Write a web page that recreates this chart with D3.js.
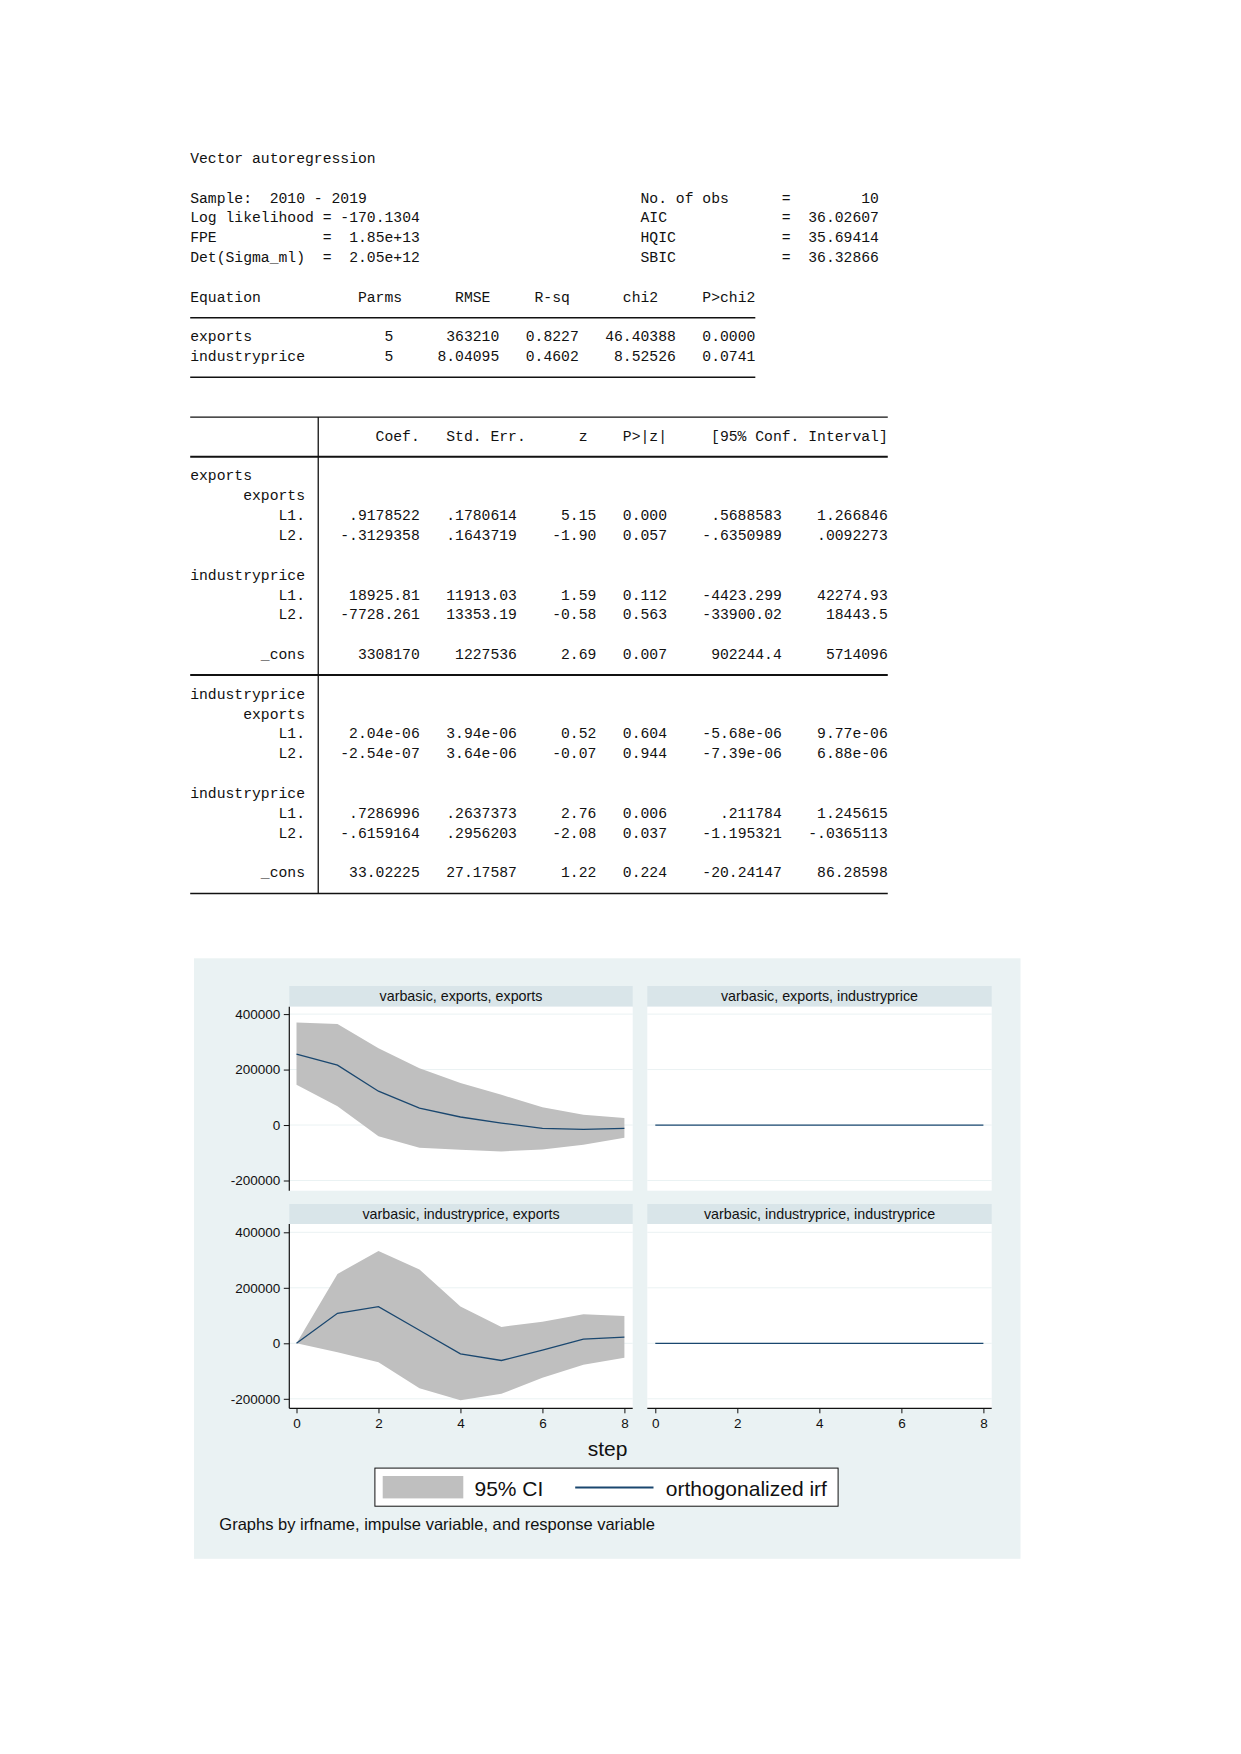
<!DOCTYPE html>
<html lang="en">
<head>
<meta charset="UTF-8">
<title>Vector autoregression</title>
<script src="https://d3js.org/d3.v7.min.js"></script>
<style>
    body { margin: 0; background: #fff; }
    svg text { white-space: pre; }
    .mono text { font-family: "Liberation Mono", "DejaVu Sans Mono", monospace; font-size: 14.72px; fill: #111; }
    .gr text { font-family: "Liberation Sans", Arial, sans-serif; fill: #111; }
</style>
</head>
<body>
<div id="page"></div>
<script>
    // ---- VAR output text ----
    const sampleLeft = ["Sample:  2010 - 2019", "Log likelihood = -170.1304", "FPE            =  1.85e+13", "Det(Sigma_ml)  =  2.05e+12"];
    const statLabels = ["No. of obs", "AIC", "HQIC", "SBIC"];
    const statValues = ["10", "36.02607", "35.69414", "36.32866"];

    const eqHead = ["Parms", "RMSE", "R-sq", "chi2", "P>chi2"];
    const eqNames = ["exports", "industryprice"];
    const eqValues = [
        ["5", "363210", "0.8227", "46.40388", "0.0000"],
        ["5", "8.04095", "0.4602", "8.52526", "0.0741"]
    ];

    const coefHead = ["Coef.", "Std. Err.", "z", "P>|z|", "[95% Conf. Interval]"];
    const coefExports = [
        [".9178522", ".1780614", "5.15", "0.000", ".5688583", "1.266846"],
        ["-.3129358", ".1643719", "-1.90", "0.057", "-.6350989", ".0092273"],
        ["18925.81", "11913.03", "1.59", "0.112", "-4423.299", "42274.93"],
        ["-7728.261", "13353.19", "-0.58", "0.563", "-33900.02", "18443.5"],
        ["3308170", "1227536", "2.69", "0.007", "902244.4", "5714096"]
    ];
    const coefIndustry = [
        ["2.04e-06", "3.94e-06", "0.52", "0.604", "-5.68e-06", "9.77e-06"],
        ["-2.54e-07", "3.64e-06", "-0.07", "0.944", "-7.39e-06", "6.88e-06"],
        [".7286996", ".2637373", "2.76", "0.006", ".211784", "1.245615"],
        ["-.6159164", ".2956203", "-2.08", "0.037", "-1.195321", "-.0365113"],
        ["33.02225", "27.17587", "1.22", "0.224", "-20.24147", "86.28598"]
    ];

    // ---- IRF graph data ----
    const steps = [0, 1, 2, 3, 4, 5, 6, 7, 8];
    const irfExpExp = [256000, 216000, 122000, 61000, 29000, 7000, -12000, -16000, -12000];
    const loExpExp = [145000, 68000, -40000, -82000, -89000, -95000, -88000, -71000, -46000];
    const hiExpExp = [370000, 364000, 277000, 205000, 152000, 109000, 64000, 37000, 25000];
    const irfIpExp = [0, 108000, 132000, 47000, -38000, -62000, -25000, 15000, 22000];
    const loIpExp = [0, -32000, -68000, -162000, -205000, -182000, -124000, -77000, -52000];
    const hiIpExp = [0, 250000, 333000, 266000, 133000, 59000, 78000, 105000, 98000];
    const irfExpIp = [0, 0, 0, 0, 0, 0, 0, 0, 0];
    const loExpIp = [0, 0, 0, 0, 0, 0, 0, 0, 0];
    const hiExpIp = [0, 0, 0, 0, 0, 0, 0, 0, 0];
    const irfIpIp = [0, 0, 0, 0, 0, 0, 0, 0, 0];
    const loIpIp = [0, 0, 0, 0, 0, 0, 0, 0, 0];
    const hiIpIp = [0, 0, 0, 0, 0, 0, 0, 0, 0];
    const yTicks = [-200000, 0, 200000, 400000];
    const xTicks = [0, 2, 4, 6, 8];
    const panelTitles = ["varbasic, exports, exports", "varbasic, exports, industryprice",
        "varbasic, industryprice, exports", "varbasic, industryprice, industryprice"];

    const svg = d3.select("#page").append("svg")
        .attr("width", 1241).attr("height", 1754);

    // ---------- text table ----------
    const cw = 8.83, tx0 = 190.2, y0 = 157.8, lineH = 19.85;
    const lineY = n => y0 + n * lineH;
    const colX = c => tx0 + c * cw;
    const mono = svg.append("g").attr("class", "mono");

    function put(str, col, n, anchor) {
        mono.append("text")
            .attr("x", colX(col))
            .attr("y", lineY(n) + 5)
            .attr("text-anchor", anchor || "start")
            .text(str);
    }
    function rule(c0, c1, n, w) {
        mono.append("line")
            .attr("x1", colX(c0)).attr("x2", colX(c1))
            .attr("y1", lineY(n) + 1.2).attr("y2", lineY(n) + 1.2)
            .attr("stroke", "#111").attr("stroke-width", w);
    }

    put("Vector autoregression", 0, 0);
    sampleLeft.forEach((s, i) => {
        put(s, 0, 2 + i);
        put(statLabels[i], 51, 2 + i);
        put("=", 67, 2 + i);
        put(statValues[i], 78, 2 + i, "end");
    });

    // equation summary
    const eqHeadEnd = [24, 34, 43, 53, 64];
    const eqValEnd = [23, 35, 44, 55, 64];
    put("Equation", 0, 7);
    eqHead.forEach((h, i) => put(h, eqHeadEnd[i], 7, "end"));
    rule(0, 64, 8, 1.5);
    eqNames.forEach((nm, r) => {
        put(nm, 0, 9 + r);
        eqValues[r].forEach((v, i) => put(v, eqValEnd[i], 9 + r, "end"));
    });
    rule(0, 64, 11, 1.5);

    // coefficient table
    const coefHeadEnd = [26, 38, 45, 54, 79];
    const coefValEnd = [26, 37, 46, 54, 67, 79];
    rule(0, 79, 13, 1.2);
    coefHead.forEach((h, i) => put(h, coefHeadEnd[i], 14, "end"));
    rule(0, 79, 15, 2.2);

    function block(eqName, rows, start) {
        put(eqName, 0, start);
        put("exports", 13, start + 1, "end");
        const layout = [
            { lab: "L1.", n: start + 2 }, { lab: "L2.", n: start + 3 },
            { lab: "L1.", n: start + 6 }, { lab: "L2.", n: start + 7 },
            { lab: "_cons", n: start + 9 }
        ];
        put("industryprice", 13, start + 5, "end");
        layout.forEach((l, r) => {
            put(l.lab, 13, l.n, "end");
            rows[r].forEach((v, i) => put(v, coefValEnd[i], l.n, "end"));
        });
    }
    block("exports", coefExports, 16);
    rule(0, 79, 26, 2);
    block("industryprice", coefIndustry, 27);
    rule(0, 79, 37, 1.5);

    mono.append("line")
        .attr("x1", colX(14.5)).attr("x2", colX(14.5))
        .attr("y1", lineY(13) + 1.2).attr("y2", lineY(37) + 1.2)
        .attr("stroke", "#111").attr("stroke-width", 1.3);

    // ---------- IRF graph ----------
    const gr = svg.append("g").attr("class", "gr");
    gr.append("rect")
        .attr("x", 194).attr("y", 958.3)
        .attr("width", 1020.5 - 194).attr("height", 1558.8 - 958.3)
        .attr("fill", "#EAF2F3");

    const cols = [
        { px0: 289.3, px1: 632.7, r0: 296.5, r1: 624.4 },
        { px0: 647.3, px1: 991.7, r0: 655.3, r1: 983.4 }
    ];
    const rows = [
        { stripTop: 986, plotTop: 1006.7, plotBot: 1190.7, yBot: 1180.5, yTop: 1014.1 },
        { stripTop: 1204, plotTop: 1224, plotBot: 1408.3, yBot: 1398.8, yTop: 1232.3 }
    ];
    const panels = [
        { c: 0, r: 0, irf: irfExpExp, lo: loExpExp, hi: hiExpExp },
        { c: 1, r: 0, irf: irfExpIp, lo: loExpIp, hi: hiExpIp },
        { c: 0, r: 1, irf: irfIpExp, lo: loIpExp, hi: hiIpExp },
        { c: 1, r: 1, irf: irfIpIp, lo: loIpIp, hi: hiIpIp }
    ];

    panels.forEach((p, k) => {
        const cg = cols[p.c], rg = rows[p.r];
        const x = d3.scaleLinear().domain([0, 8]).range([cg.r0, cg.r1]);
        const y = d3.scaleLinear().domain([-200000, 400000]).range([rg.yBot, rg.yTop]);
        const g = gr.append("g");

        // strip + title
        g.append("rect")
            .attr("x", cg.px0).attr("y", rg.stripTop)
            .attr("width", cg.px1 - cg.px0).attr("height", rg.plotTop - rg.stripTop)
            .attr("fill", "#D9E5E9");
        g.append("text")
            .attr("x", (cg.px0 + cg.px1) / 2)
            .attr("y", (rg.stripTop + rg.plotTop) / 2 + 5)
            .attr("text-anchor", "middle")
            .style("font-size", "14.3px")
            .text(panelTitles[k]);

        // plot region
        g.append("rect")
            .attr("x", cg.px0).attr("y", rg.plotTop)
            .attr("width", cg.px1 - cg.px0).attr("height", rg.plotBot - rg.plotTop)
            .attr("fill", "#fff");

        // gridlines
        g.selectAll(".grid").data(yTicks).enter().append("line")
            .attr("x1", cg.px0).attr("x2", cg.px1)
            .attr("y1", d => y(d)).attr("y2", d => y(d))
            .attr("stroke", "#EAF2F3").attr("stroke-width", 1);

        const data = steps.map((s, i) => ({ s: s, irf: p.irf[i], lo: p.lo[i], hi: p.hi[i] }));
        g.append("path").datum(data)
            .attr("fill", "#BFBFBF")
            .attr("d", d3.area().x(d => x(d.s)).y0(d => y(d.lo)).y1(d => y(d.hi)));
        g.append("path").datum(data)
            .attr("fill", "none").attr("stroke", "#1A476F").attr("stroke-width", 1.3)
            .attr("d", d3.line().x(d => x(d.s)).y(d => y(d.irf)));

        if (p.c === 0) {
            const ay = g.append("g")
                .attr("transform", "translate(" + cg.px0 + ",0)")
                .call(d3.axisLeft(y).tickValues(yTicks).tickSize(5.5).tickPadding(3.5)
                    .tickFormat(d => String(d)));
            ay.select(".domain").remove();
            ay.selectAll("text").style("font-size", "13.5px").attr("fill", "#111")
                .style("font-family", "'Liberation Sans', Arial, sans-serif");
            ay.selectAll("line").attr("stroke", "#111");
            g.append("line")
                .attr("x1", cg.px0).attr("x2", cg.px0)
                .attr("y1", rg.plotTop).attr("y2", rg.plotBot)
                .attr("stroke", "#111").attr("stroke-width", 1.2);
        }
        if (p.r === 1) {
            const ax = g.append("g")
                .attr("transform", "translate(0," + rg.plotBot + ")")
                .call(d3.axisBottom(x).tickValues(xTicks).tickSize(5).tickPadding(5)
                    .tickFormat(d => String(d)));
            ax.select(".domain").remove();
            ax.selectAll("text").style("font-size", "13.5px").attr("fill", "#111")
                .style("font-family", "'Liberation Sans', Arial, sans-serif");
            ax.selectAll("line").attr("stroke", "#111");
            g.append("line")
                .attr("x1", cg.px0).attr("x2", cg.px1)
                .attr("y1", rg.plotBot).attr("y2", rg.plotBot)
                .attr("stroke", "#111").attr("stroke-width", 1.2);
        }
    });

    // axis title
    gr.append("text")
        .attr("x", 607.5).attr("y", 1455.5)
        .attr("text-anchor", "middle")
        .style("font-size", "21px")
        .text("step");

    // legend
    const leg = gr.append("g");
    leg.append("rect")
        .attr("x", 374.9).attr("y", 1468.1).attr("width", 463.2).attr("height", 38.1)
        .attr("fill", "#fff").attr("stroke", "#111").attr("stroke-width", 1);
    leg.append("rect")
        .attr("x", 382.7).attr("y", 1476).attr("width", 80.6).attr("height", 22.4)
        .attr("fill", "#BFBFBF");
    leg.append("text")
        .attr("x", 474.5).attr("y", 1495.6)
        .style("font-size", "21px").text("95% CI");
    leg.append("line")
        .attr("x1", 575.2).attr("x2", 653.5).attr("y1", 1487.5).attr("y2", 1487.5)
        .attr("stroke", "#1A476F").attr("stroke-width", 2);
    leg.append("text")
        .attr("x", 665.8).attr("y", 1495.6)
        .style("font-size", "21px").text("orthogonalized irf");

    gr.append("text")
        .attr("x", 219.3).attr("y", 1530)
        .style("font-size", "16.5px")
        .text("Graphs by irfname, impulse variable, and response variable");
</script>
</body>
</html>
